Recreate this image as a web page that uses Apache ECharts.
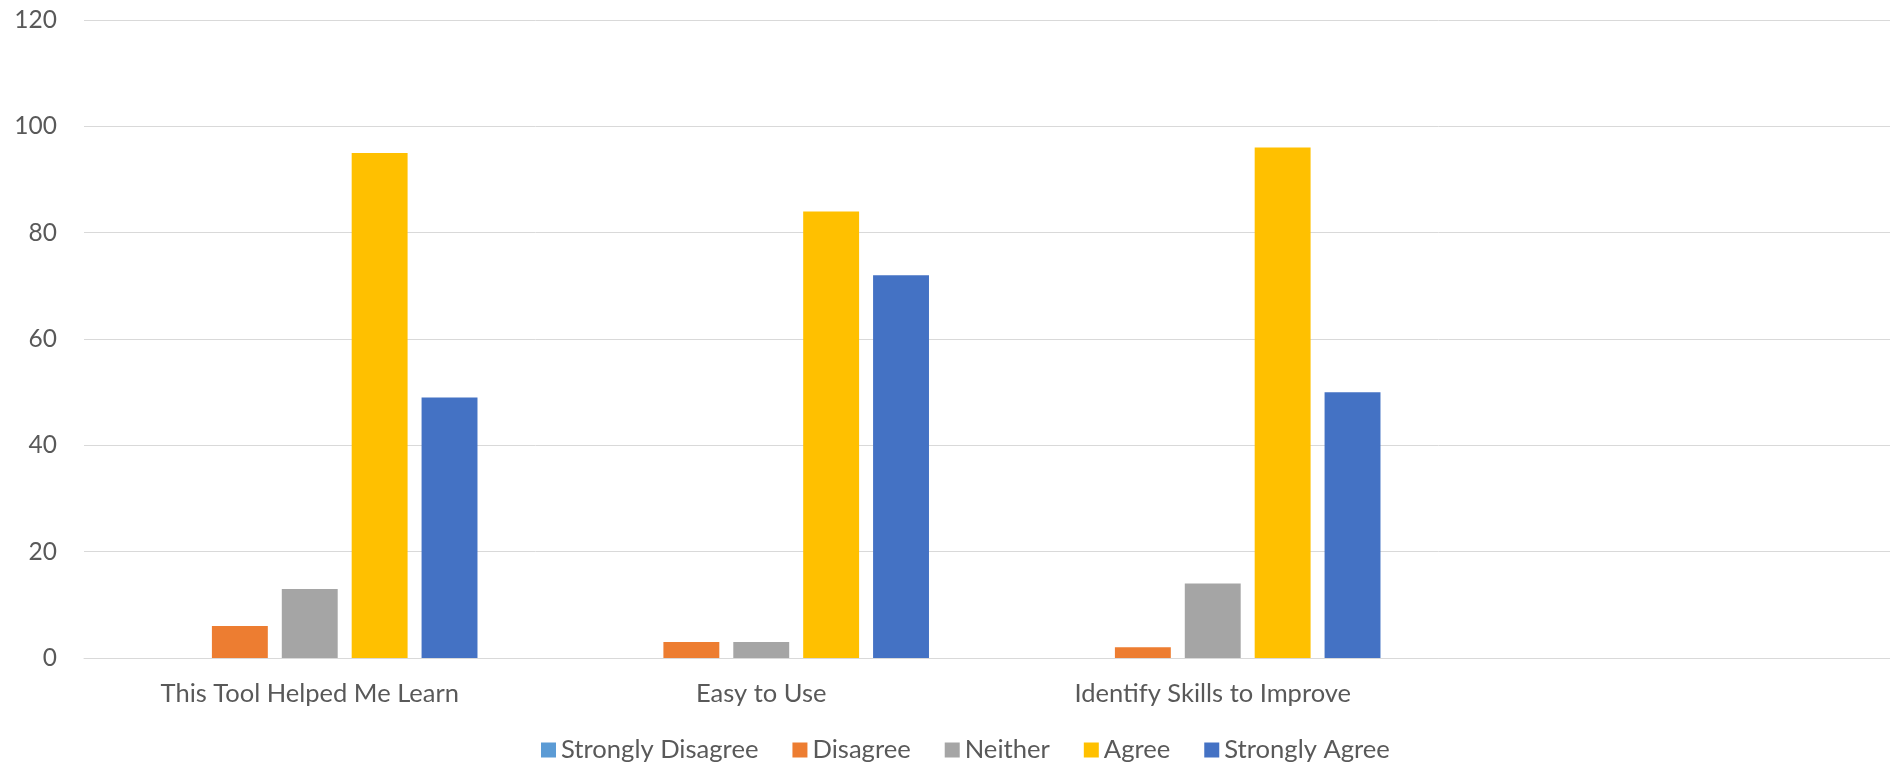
<!DOCTYPE html>
<html>
<head>
<meta charset="utf-8">
<script src="https://cdn.jsdelivr.net/npm/echarts@6/dist/echarts.min.js"></script>
<style>
html,body{margin:0;padding:0;background:#fff;}
#chart{width:1890px;height:764px;}
</style>
</head>
<body>
<div id="chart"></div>
<script>
const categories = ["This Tool Helped Me Learn", "Easy to Use", "Identify Skills to Improve", ""];
const seriesNames = ["Strongly Disagree", "Disagree", "Neither", "Agree", "Strongly Agree"];
const stronglyDisagree = [0, 0, 0, null];
const disagree = [6, 3, 2, null];
const neither = [13, 3, 14, null];
const agree = [95, 84, 96, null];
const stronglyAgree = [49, 72, 50, null];
const colors = ["#5B9BD5", "#ED7D31", "#A5A5A5", "#FFC000", "#4472C4"];
const yTicks = { min: 0, max: 120, interval: 20 };

const values = [stronglyDisagree, disagree, neither, agree, stronglyAgree];
const font = "Lato, 'Open Sans', sans-serif";

const chart = echarts.init(document.getElementById('chart'), null, { renderer: 'canvas' });
chart.setOption({
  animation: false,
  backgroundColor: '#ffffff',
  grid: { left: 84, right: 0, top: 20, bottom: 106, containLabel: false },
  legend: {
    left: 536,
    top: 732,
    icon: 'rect',
    itemWidth: 15,
    itemHeight: 15,
    itemGap: 34,
    textStyle: { fontFamily: font, fontSize: 25.6, color: '#595959' },
    data: seriesNames
  },
  xAxis: {
    type: 'category',
    data: categories,
    axisLine: { show: true, lineStyle: { color: '#d9d9d9', width: 1 } },
    axisTick: { show: false },
    axisLabel: { fontFamily: font, fontSize: 25.5, color: '#595959', margin: 23, interval: 0 },
    splitLine: { show: false }
  },
  yAxis: {
    type: 'value',
    min: yTicks.min,
    max: yTicks.max,
    interval: yTicks.interval,
    axisLine: { show: false },
    axisTick: { show: false },
    axisLabel: { fontFamily: font, fontSize: 24.5, color: '#595959', margin: 27 },
    splitLine: { show: true, lineStyle: { color: '#d9d9d9', width: 1 } }
  },
  series: seriesNames.map((name, i) => ({
    name: name,
    type: 'bar',
    data: values[i],
    itemStyle: { color: colors[i] },
    barGap: '25%',
    barCategoryGap: '25.7%'
  }))
});
</script>
</body>
</html>
